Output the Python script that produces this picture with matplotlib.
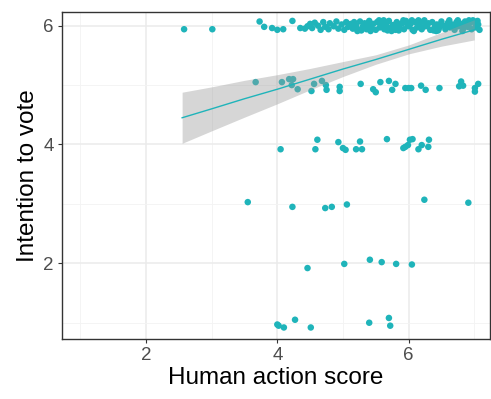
import matplotlib
matplotlib.use("Agg")
from matplotlib import pyplot as plt
import numpy as np

plt.rcParams['font.family'] = ['Liberation Sans', 'DejaVu Sans']

# --- data (jittered points) ---
row6_x = [2.58, 3.01, 3.73, 3.80, 3.92, 4.00, 4.09, 4.23, 4.35,
          4.42, 4.46, 4.50, 4.53, 4.57, 4.62, 4.66, 4.70, 4.73, 4.78, 4.80, 4.86, 4.90, 4.93, 4.98, 5.02, 5.05, 5.08, 5.12,
          5.15, 5.17, 5.20, 5.24, 5.26, 5.30, 5.33, 5.36, 5.40, 5.43, 5.46, 5.50, 5.52, 5.56, 5.60, 5.63, 5.66, 5.70,
          5.72, 5.76, 5.80, 5.82, 5.86, 5.90, 5.93, 5.96, 6.00, 6.03, 6.06, 6.10, 6.13, 6.16, 6.20, 6.23, 6.26, 6.30,
          6.33, 6.36, 6.40, 6.43, 6.46, 6.50, 6.53, 6.56, 6.60, 6.63, 6.66, 6.70, 6.73, 6.76, 6.80, 6.83, 6.86, 6.90,
          6.93, 6.96, 7.00, 7.03, 7.06, 7.08, 7.05,
          5.28, 5.55, 5.85, 6.15, 6.45, 6.75, 5.68, 6.05, 6.38, 6.92,
          5.18, 5.38, 5.58, 5.78, 5.98, 6.18, 6.28, 6.48, 6.58, 6.68, 6.88, 7.02,
          5.22, 5.42, 5.62, 5.74, 5.92, 6.08, 6.24, 6.42, 6.62, 6.82, 6.98]
row6_y = [5.94, 5.94, 6.07, 5.98, 5.96, 5.93, 5.94, 6.08, 5.96,
          5.95, 5.99, 6.03, 5.96, 6.05, 6.00, 5.93, 6.06, 5.98, 5.94, 6.04, 5.99, 6.07, 5.95, 6.02, 5.93, 6.06, 5.98, 6.03,
          5.95, 6.06, 6.00, 5.93, 6.07, 5.98, 6.04, 5.94, 6.08, 5.99, 6.03, 5.93, 6.06, 5.97, 6.05, 5.94, 6.02, 6.08,
          5.96, 6.01, 5.93, 6.06, 5.98, 6.04, 5.94, 6.08, 5.99, 6.03, 5.93, 6.06, 5.97, 6.02, 5.94, 6.07, 5.99, 6.04,
          5.93, 6.06, 5.98, 6.02, 5.95, 6.07, 6.00, 5.94, 6.05, 5.97, 6.02, 5.93, 6.06, 5.99, 6.03, 5.95, 6.07, 5.98,
          6.04, 5.94, 6.06, 5.97, 6.02, 5.93, 6.08,
          5.92, 6.09, 5.92, 6.09, 5.92, 6.09, 5.92, 6.09, 5.92, 6.09,
          6.01, 6.00, 5.99, 6.01, 6.02, 5.99, 6.00, 6.01, 5.99, 6.00, 6.01, 5.99,
          5.91, 5.91, 6.09, 5.91, 6.09, 5.91, 6.09, 5.91, 6.09, 5.91, 6.09]

row5_x = [3.67, 4.07, 4.18, 4.24, 4.22, 4.31, 4.52, 4.56, 4.68, 4.74, 4.75, 4.95, 4.95, 5.27, 5.46, 5.50,
          5.57, 5.70, 5.75, 5.80, 5.95, 6.00, 6.04, 6.19, 6.26, 6.47, 6.77, 6.80, 6.83, 7.01, 7.01, 7.06]
row5_y = [5.05, 5.05, 5.10, 5.10, 5.00, 4.93, 4.90, 5.02, 5.07, 5.00, 4.92, 4.97, 4.90, 5.02, 4.93, 4.88,
          5.05, 5.07, 4.92, 5.02, 4.95, 4.95, 4.95, 4.99, 4.92, 4.95, 4.98, 5.06, 4.99, 4.95, 4.89, 5.02]

row4_x = [4.05, 4.58, 4.61, 4.93, 5.00, 5.04, 5.20, 5.26, 5.29, 5.67, 5.92, 5.95, 5.99, 6.02, 6.06, 6.15, 6.20, 6.30, 6.31]
row4_y = [3.92, 3.92, 4.08, 4.04, 3.94, 3.91, 3.92, 4.05, 3.92, 4.09, 3.94, 3.96, 3.99, 4.08, 4.09, 3.92, 3.99, 3.96, 4.08]

row3_x = [3.55, 4.23, 4.73, 4.83, 5.06, 6.24, 6.91]
row3_y = [3.03, 2.95, 2.93, 2.95, 2.99, 3.07, 3.02]

row2_x = [4.46, 5.02, 5.41, 5.59, 5.81, 6.05]
row2_y = [1.92, 1.99, 2.06, 2.02, 1.99, 1.98]

row1_x = [4.00, 4.02, 4.10, 4.27, 4.51, 5.40, 5.70, 5.72]
row1_y = [0.97, 0.95, 0.92, 1.05, 0.92, 1.00, 1.08, 0.95]

# linear fit + 95% band
fit_x = [2.55, 3.0, 3.5, 4.0, 4.5, 5.0, 5.5, 6.0, 6.5, 7.0]
fit_y = [4.45, 4.60, 4.77, 4.93, 5.10, 5.27, 5.43, 5.60, 5.77, 5.93]
fit_lo = [4.02, 4.23, 4.46, 4.685, 4.92, 5.144, 5.35, 5.525, 5.655, 5.76]
fit_hi = [4.88, 4.97, 5.08, 5.175, 5.28, 5.396, 5.51, 5.675, 5.885, 6.10]

teal = "#1FB4BA"
pts_x = row6_x + row5_x + row4_x + row3_x + row2_x + row1_x
pts_y = row6_y + row5_y + row4_y + row3_y + row2_y + row1_y

fig = plt.figure(figsize=(4.91, 3.99), dpi=100)
ax = fig.add_axes([62 / 491, (399 - 339) / 399, (490 - 62) / 491, (339 - 12) / 399])

ax.scatter(pts_x, pts_y, s=22, color=teal, edgecolors="none", zorder=3)
ax.fill_between(fit_x, fit_lo, fit_hi, color="#999999", alpha=0.4, linewidth=0, zorder=4)
ax.plot(fit_x, fit_y, color=teal, lw=1.0, zorder=5)

ax.set_xlim(0.72, 7.24)
ax.set_ylim(0.726, 6.23)
ax.set_xticks([2, 4, 6])
ax.set_yticks([2, 4, 6])
ax.set_xticks([1, 3, 5, 7], minor=True)
ax.set_yticks([1, 3, 5], minor=True)
ax.grid(which="major", color="#EBEBEB", lw=1.1, zorder=0)
ax.grid(which="minor", color="#F3F3F3", lw=0.6, zorder=0)
ax.set_axisbelow(True)
ax.tick_params(which="minor", length=0)
ax.tick_params(which="major", length=3, width=0.8, color="#333333",
               labelcolor="#4D4D4D", labelsize=13.5, pad=3)
for sp in ax.spines.values():
    sp.set_color("#333333")
    sp.set_linewidth(1.0)

ax.set_xlabel("Human action score", fontsize=17.5, color="black", labelpad=2)
ax.set_ylabel("Intention to vote", fontsize=17.5, color="black", labelpad=3)

fig.savefig("out.png", dpi=100)
